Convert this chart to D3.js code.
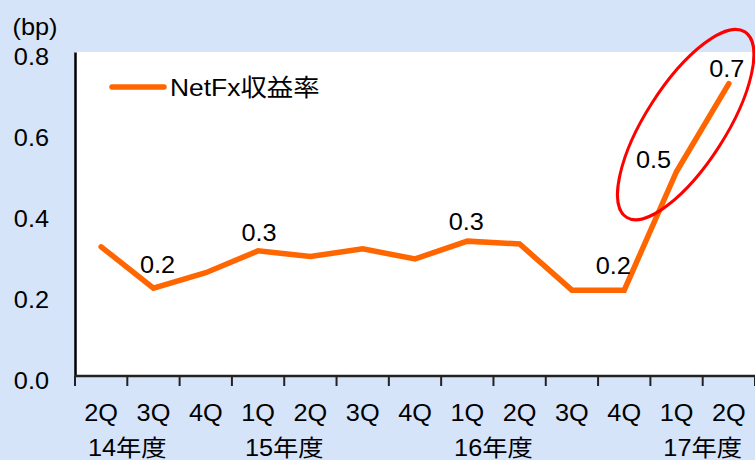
<!DOCTYPE html>
<html><head><meta charset="utf-8">
<script src="https://cdn.jsdelivr.net/npm/d3@7"></script>
<style>
html,body{margin:0;padding:0;background:#d6e4fa;}
svg{display:block;}
text{font-family:"Liberation Sans",Arial,"Noto Sans CJK JP",sans-serif;fill:#000;}
</style></head>
<body><svg id="c" width="755" height="460"></svg>
<script>
const categories = ["2Q","3Q","4Q","1Q","2Q","3Q","4Q","1Q","2Q","3Q","4Q","1Q","2Q"];
const netFx = [0.319,0.217,0.255,0.309,0.295,0.314,0.289,0.333,0.326,0.212,0.212,0.505,0.722];
const seriesName = "NetFx収益率";
const yTicks = [0.0,0.2,0.4,0.6,0.8];
const yearLabels = ["14年度","15年度","16年度","17年度"];
const yearStartIndex = [1,4,8,12];
const pointLabels = ["","0.2","","0.3","","","","0.3","","","0.2","0.5","0.7"];
const yUnit = "(bp)";

const W = 755, H = 460, SX = 1.1, FS = 23;
const m = {left:75, right:0, top:52, bottom:84};
const svg = d3.select("#c");
svg.append("rect").attr("width",W).attr("height",H).attr("fill","#d6e4fa");

const x = d3.scaleBand().domain(d3.range(categories.length)).range([m.left, W-m.right]);
const y = d3.scaleLinear().domain([0,0.8]).range([H-m.bottom, m.top]);
const cxOf = i => x(i) + x.bandwidth()/2;
const tr = (a,b) => `translate(${a},${b}) scale(${SX},1)`;

// plot area
svg.append("rect").attr("x",m.left).attr("y",m.top)
  .attr("width",W-m.right-m.left).attr("height",H-m.bottom-m.top).attr("fill","#fff");

// y axis
const yAxis = svg.append("g").attr("transform",`translate(${m.left},0)`)
  .call(d3.axisLeft(y).tickValues(yTicks).tickFormat(d3.format(".1f")).tickSize(0).tickPadding(0));
yAxis.select(".domain").attr("stroke","#000").attr("stroke-width",2.5);
yAxis.selectAll("text").attr("x",0).attr("dy","0.55em").attr("font-size",FS)
  .attr("text-anchor","end").attr("transform",tr(-26,0))
  .style("font-family",'"Liberation Sans",Arial,sans-serif');

// x axis
const xAxisG = svg.append("g").attr("transform",`translate(0,${H-m.bottom})`);
xAxisG.append("line").attr("x1",m.left).attr("x2",W).attr("y1",0).attr("y2",0)
  .attr("stroke","#222").attr("stroke-width",2.5);
const tickPos = d3.range(categories.length+1).map(i => i < categories.length ? x(i) : x(i-1)+x.bandwidth());
xAxisG.selectAll("line.t").data(tickPos).join("line").attr("class","t")
  .attr("x1",d=>d).attr("x2",d=>d).attr("y1",0).attr("y2",10).attr("stroke","#222").attr("stroke-width",2);
xAxisG.selectAll("text.q").data(categories).join("text").attr("class","q")
  .attr("transform",(d,i)=>tr(cxOf(i),45)).attr("text-anchor","middle")
  .attr("font-size",FS).text(d=>d);
xAxisG.selectAll("text.yr").data(yearLabels).join("text").attr("class","yr")
  .attr("transform",(d,i)=>tr(x(yearStartIndex[i]),80)).attr("text-anchor","middle")
  .attr("font-size",FS).text(d=>d);

// y unit
svg.append("text").attr("transform",tr(35,35)).attr("text-anchor","middle").attr("font-size",FS).text(yUnit);

// line
const line = d3.line().x((d,i)=>cxOf(i)).y(d=>y(d));
svg.append("path").datum(netFx).attr("d",line).attr("fill","none")
  .attr("stroke","#ff6600").attr("stroke-width",5.5).attr("stroke-linejoin","miter").attr("stroke-linecap","round");

// point labels
const offs = {1:[4,-15],3:[1,-10],7:[-1,-11],10:[-11,-16],11:[-23,-3],12:[-2,-7]};
const lab = netFx.map((v,i)=>({v,i,t:pointLabels[i]})).filter(d=>d.t);
svg.selectAll("text.pl").data(lab).join("text").attr("class","pl")
  .attr("transform",d=>tr(cxOf(d.i)+offs[d.i][0], y(d.v)+offs[d.i][1]))
  .attr("text-anchor","middle").attr("font-size",FS)
  .text(d=>d.t);

// ellipse highlight around last two points
const p1 = [cxOf(11), y(netFx[11])], p2 = [cxOf(12), y(netFx[12])];
const ecx = (p1[0]+p2[0])/2 - 17, ecy = (p1[1]+p2[1])/2 - 3;
svg.append("ellipse").attr("cx",0).attr("cy",0).attr("rx",110).attr("ry",40)
  .attr("transform",`translate(${ecx},${ecy}) rotate(-57.4)`)
  .attr("fill","none").attr("stroke","#ff0000").attr("stroke-width",3);

// legend
svg.append("line").attr("x1",112).attr("x2",164).attr("y1",87).attr("y2",87)
  .attr("stroke","#ff6600").attr("stroke-width",5.5).attr("stroke-linecap","round");
svg.append("text").attr("transform",tr(170,96)).attr("font-size",24).text(seriesName);
</script></body></html>
